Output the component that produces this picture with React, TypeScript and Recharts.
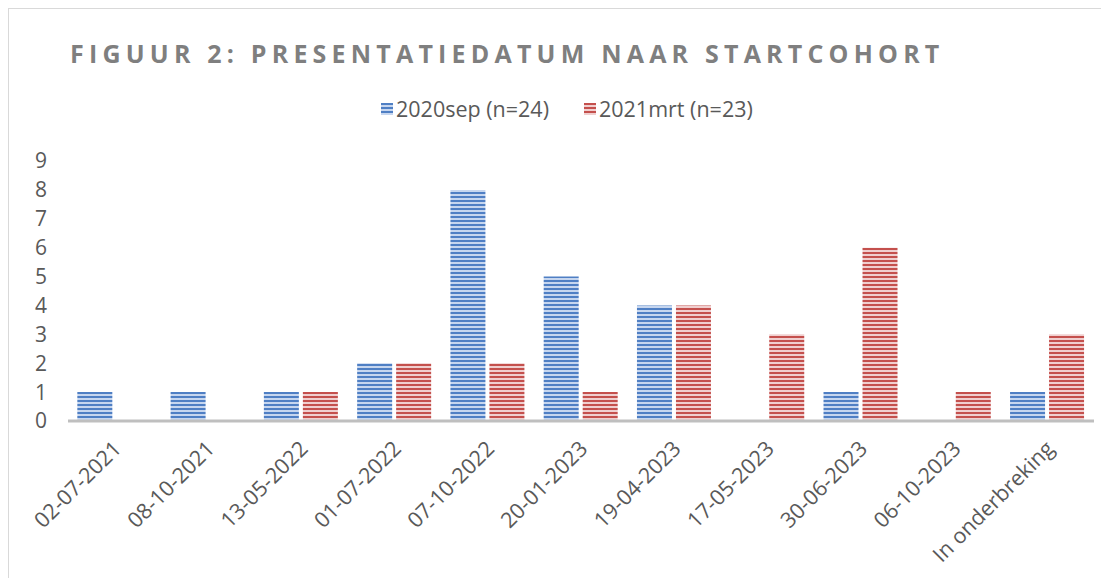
import React from 'react';
import { BarChart, Bar, XAxis, YAxis } from 'recharts';

const categories = [
  '02-07-2021', '08-10-2021', '13-05-2022', '01-07-2022', '07-10-2022', '20-01-2023',
  '19-04-2023', '17-05-2023', '30-06-2023', '06-10-2023', 'In onderbreking',
];
const sep2020 = [1, 1, 1, 2, 8, 5, 4, 0, 1, 0, 1];
const mrt2021 = [0, 0, 1, 2, 2, 1, 4, 3, 6, 1, 3];
const yTicks = [0, 1, 2, 3, 4, 5, 6, 7, 8, 9];

const seriesNames = ['2020sep (n=24)', '2021mrt (n=23)'];

const FONT = '"Open Sans", "Noto Sans", sans-serif';
const TEXT = '#595959';

const chartData = categories.map((c, i) => ({ name: c, sep: sep2020[i], mrt: mrt2021[i] }));

const XTick = (props: any) => {
  const { x, y, payload } = props;
  return (
    <text
      x={x + 8}
      y={y + 21}
      transform={`rotate(-45 ${x + 8} ${y + 21})`}
      textAnchor="end"
      fill={TEXT}
      fontSize={21.5}
      fontFamily={FONT}
    >
      {payload.value}
    </text>
  );
};

const Swatch = ({ id }: { id: string }) => (
  <svg width={12} height={12} style={{ marginRight: 3 }}>
    <rect width={12} height={12} fill={`url(#${id})`} />
  </svg>
);

export default function App() {
  return (
    <div
      style={{
        position: 'relative',
        width: 1101,
        height: 570,
        borderLeft: '1px solid #d9d9d9',
        borderTop: '1px solid #d9d9d9',
        boxSizing: 'border-box',
        fontFamily: FONT,
      }}
    >
      <div
        style={{
          position: 'absolute',
          left: 61,
          top: 27,
          fontSize: 25,
          fontWeight: 700,
          letterSpacing: 5.2,
          color: '#7f7f7f',
          whiteSpace: 'nowrap',
        }}
      >
        FIGUUR 2: PRESENTATIEDATUM NAAR STARTCOHORT
      </div>
      <div
        style={{
          position: 'absolute',
          left: 372,
          top: 85,
          display: 'flex',
          alignItems: 'center',
          fontSize: 21.5,
          color: TEXT,
          whiteSpace: 'nowrap',
        }}
      >
        <Swatch id="stripeBlue" />
        <span style={{ marginRight: 35 }}>{seriesNames[0]}</span>
        <Swatch id="stripeRed" />
        <span>{seriesNames[1]}</span>
      </div>
      <div style={{ position: 'absolute', left: -1, top: -1 }}>
        <BarChart
          width={1101}
          height={570}
          data={chartData}
          margin={{ top: 153, right: 15, bottom: 7, left: 0 }}
          barCategoryGap="10%"
          barGap={4}
        >
          <defs>
            <pattern id="stripeBlue" patternUnits="userSpaceOnUse" width={8} height={4}>
              <rect width={8} height={4} fill="#c6d6ef" />
              <rect y={0} width={8} height={2} fill="#4f7fc4" />
            </pattern>
            <pattern id="stripeRed" patternUnits="userSpaceOnUse" width={8} height={4}>
              <rect width={8} height={4} fill="#f0cfcf" />
              <rect y={0} width={8} height={2} fill="#c4504d" />
            </pattern>
          </defs>
          <XAxis
            dataKey="name"
            interval={0}
            height={150}
            tickLine={false}
            axisLine={{ stroke: '#bfbfbf', strokeWidth: 3 }}
            tick={<XTick />}
          />
          <YAxis
            width={60}
            domain={[0, 9]}
            ticks={yTicks}
            interval={0}
            axisLine={false}
            tickLine={false}
            tickSize={0}
            tickMargin={21}
            tick={{ fill: TEXT, fontSize: 21, fontFamily: FONT }}
          />
          <Bar dataKey="sep" name={seriesNames[0]} fill="url(#stripeBlue)" isAnimationActive={false} />
          <Bar dataKey="mrt" name={seriesNames[1]} fill="url(#stripeRed)" isAnimationActive={false} />
        </BarChart>
      </div>
    </div>
  );
}
